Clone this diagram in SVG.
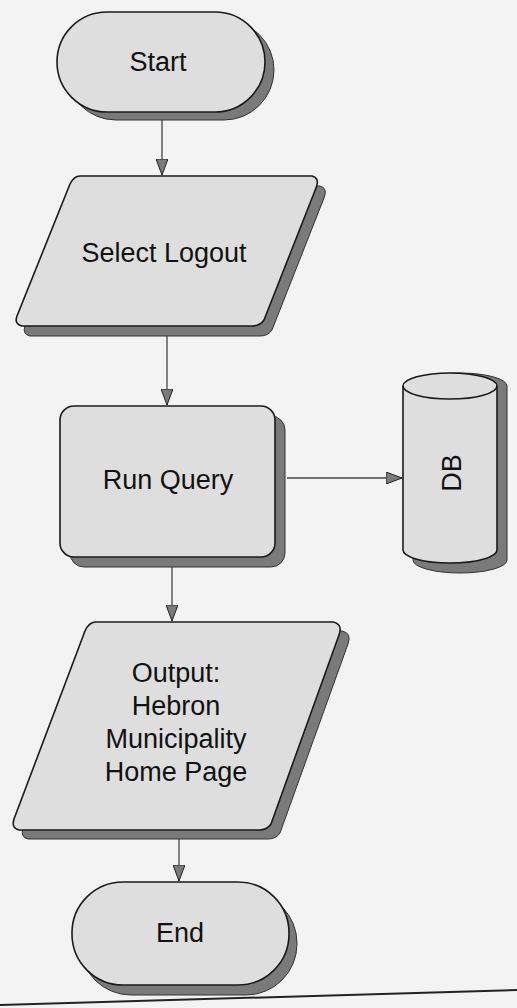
<svg xmlns="http://www.w3.org/2000/svg" width="517" height="1008" viewBox="0 0 517 1008">
<defs>
<style>
.shape{fill:#dedede;stroke:#1a1a1a;stroke-width:1.6;stroke-linejoin:round}
.shadow{fill:#7a7a7a;stroke:#333;stroke-width:1}
.lbl{font-family:"Liberation Sans",Arial,sans-serif;font-size:27px;fill:#111;text-anchor:middle}
.conn{stroke:#444;stroke-width:1.3;fill:none}
</style>
<marker id="ah" viewBox="0 0 16 12" refX="16" refY="6" markerWidth="16" markerHeight="12" markerUnits="userSpaceOnUse" orient="auto">
<path d="M0,0 L16,6 L0,12 Z" fill="#7a7a7a" stroke="#222" stroke-width="1"/>
</marker>
</defs>
<rect width="517" height="1008" fill="#f3f3f3"/>
<line x1="0" y1="1005" x2="517" y2="990" stroke="#222" stroke-width="2"/>

<g id="connectors">
<line class="conn" x1="162" y1="120" x2="162" y2="175" marker-end="url(#ah)"/>
<line class="conn" x1="167" y1="336" x2="167" y2="405" marker-end="url(#ah)"/>
<line class="conn" x1="287" y1="478" x2="402" y2="478" marker-end="url(#ah)"/>
<line class="conn" x1="172" y1="567" x2="172" y2="621" marker-end="url(#ah)"/>
<line class="conn" x1="179" y1="838" x2="179" y2="881" marker-end="url(#ah)"/>
</g>

<g id="start">
<rect class="shadow" x="66" y="20" width="208" height="100" rx="50"/>
<rect class="shape" x="57" y="12" width="208" height="100" rx="50"/>
<text class="lbl" x="158" y="71">Start</text>
</g>

<g id="select-logout">
<path class="shadow" d="M88,186 L320,186 Q328,188 324,198 L272,330 Q268,336 260,336 L30,336 Q22,334 25,326 L78,194 Q82,186 88,186 Z"/>
<path class="shape" d="M80,176 L312,176 Q320,178 316,188 L264,320 Q260,326 252,326 L22,326 Q14,324 17,316 L70,184 Q74,176 80,176 Z"/>
<text class="lbl" x="164" y="262">Select Logout</text>
</g>

<g id="run-query">
<rect class="shadow" x="70" y="416" width="215" height="151" rx="14"/>
<rect class="shape" x="60" y="406" width="215" height="151" rx="14"/>
<text class="lbl" x="168" y="489">Run Query</text>
</g>

<g id="db">
<path class="shadow" d="M413,386 A47,13 0 0 1 507,386 L507,560 A47,13 0 0 1 413,560 Z"/>
<path class="shape" d="M403,386 A47,13 0 0 1 497,386 L497,550 A47,13 0 0 1 403,550 Z"/>
<path class="shape" d="M403,386 A47,13 0 0 0 497,386" fill="none"/>
<text class="lbl" transform="translate(461,473) rotate(-90)" x="0" y="0">DB</text>
</g>

<g id="output">
<path class="shadow" d="M105,631 L342,631 Q352,633 348,644 L280,833 Q276,839 268,839 L28,839 Q20,837 23,828 L94,640 Q98,631 105,631 Z"/>
<path class="shape" d="M96,622 L333,622 Q343,624 339,635 L271,824 Q267,830 259,830 L19,830 Q11,828 14,819 L85,631 Q89,622 96,622 Z"/>
<text class="lbl" x="176" y="682">Output:</text>
<text class="lbl" x="176" y="715">Hebron</text>
<text class="lbl" x="176" y="748">Municipality</text>
<text class="lbl" x="176" y="781">Home Page</text>
</g>

<g id="end">
<rect class="shadow" x="80" y="892" width="217" height="103" rx="51"/>
<rect class="shape" x="72" y="882" width="217" height="103" rx="51"/>
<text class="lbl" x="180" y="942">End</text>
</g>
</svg>
